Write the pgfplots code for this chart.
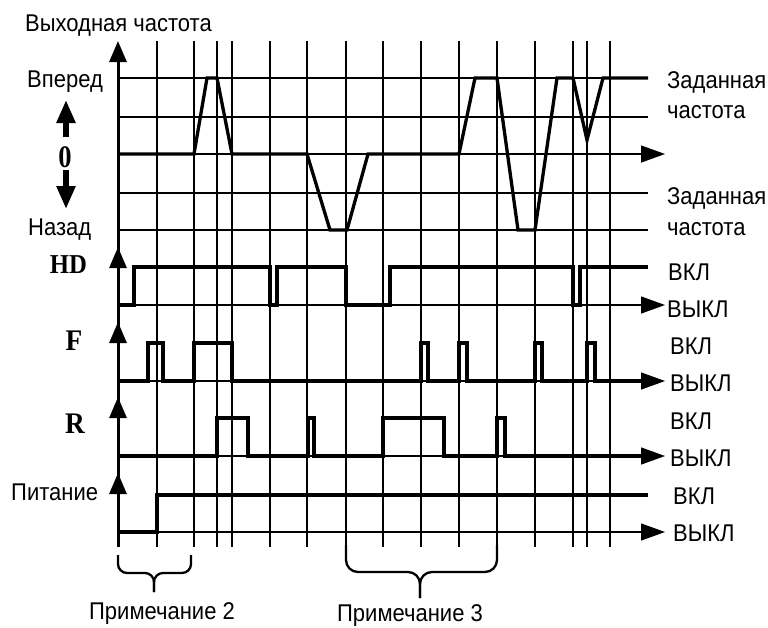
\documentclass[border=0pt]{standalone}
\usepackage{graphicx}
\usepackage{pgfplots}
\pgfplotsset{compat=1.18}
\usepackage{fontspec}
\setmainfont{Liberation Sans}
\newfontfamily\serifb{Liberation Serif}
\usetikzlibrary{arrows.meta}
\newcommand{\st}[1]{\scalebox{1}[1.1]{#1}}
\tikzset{
  lab/.style={font=\fontsize{22}{26}\selectfont, inner sep=0pt},
  blab/.style={font=\serifb\bfseries\fontsize{26}{28}\selectfont, inner sep=0pt},
  thinl/.style={black, line width=1.3pt, line cap=butt},
  gridl/.style={black, line width=1.7pt},
  sig/.style={black, line width=3.3pt, line join=miter},
  rarr/.style={-{Triangle[length=24pt,width=17pt]}},
  uarr/.style={black, line width=3pt, -{Triangle[length=21pt,width=17pt]}},
}
\begin{document}
\begin{tikzpicture}
\begin{axis}[
  scale only axis, width=768pt, height=627pt,
  xmin=0, xmax=768, ymin=0, ymax=627, y dir=reverse,
  axis lines=none, clip=false,
]
% vertical grid lines
\addplot[gridl] coordinates {(194,41)(194,547)};
\addplot[gridl] coordinates {(217,41)(217,547)};
\addplot[gridl] coordinates {(232,41)(232,547)};
\addplot[gridl] coordinates {(270,41)(270,547)};
\addplot[gridl] coordinates {(307,41)(307,547)};
\addplot[gridl] coordinates {(383,41)(383,547)};
\addplot[gridl] coordinates {(421,41)(421,547)};
\addplot[gridl] coordinates {(459,41)(459,547)};
\addplot[gridl] coordinates {(497,41)(497,547)};
\addplot[gridl] coordinates {(535,41)(535,547)};
\addplot[gridl] coordinates {(587,41)(587,547)};
\addplot[gridl] coordinates {(610,41)(610,547)};
\addplot[thinl] coordinates {(157,41)(157,547)};
\addplot[thinl] coordinates {(346,41)(346,547)};
\addplot[thinl] coordinates {(573,41)(573,547)};
% horizontal thin lines (frequency)
\addplot[thinl] coordinates {(118,78)(648,78)};
\addplot[thinl] coordinates {(118,117)(648,117)};
\addplot[thinl] coordinates {(118,193)(648,193)};
\addplot[thinl] coordinates {(118,230)(648,230)};
% baselines with arrows
\addplot[thinl, rarr] coordinates {(118,154)(665,154)};
\addplot[thinl, rarr] coordinates {(118,305)(665,305)};
\addplot[thinl, rarr] coordinates {(118,381)(665,381)};
\addplot[thinl, rarr] coordinates {(118,456)(665,456)};
\addplot[thinl, rarr] coordinates {(118,532)(665,532)};
% left axis with arrows
\addplot[black, line width=3pt] coordinates {(118,547)(118,55)};
\addplot[uarr] coordinates {(118,80)(118,41)};
\addplot[uarr] coordinates {(118,280)(118,247)};
\addplot[uarr] coordinates {(118,360)(118,322)};
\addplot[uarr] coordinates {(118,430)(118,397)};
\addplot[uarr] coordinates {(118,510)(118,473)};
% signals
\addplot[sig] coordinates {(118,154)(194,154)(207,78)(217,78)(232,154)(307,154)(330,230)(347,230)(368,154)(459,154)(475,78)(497,78)(518,230)(535,230)(557,78)(573,78)(587,140)(603,78)(648,78)};
\addplot[sig] coordinates {(118,305)(134,305)(134,267)(270,267)(270,305)(277,305)(277,267)(346,267)(346,305)(390,305)(390,267)(573,267)(573,305)(580,305)(580,267)(648,267)};
\addplot[sig] coordinates {(118,381)(148,381)(148,343)(163,343)(163,381)(194,381)(194,343)(232,343)(232,381)(421,381)(421,343)(428,343)(428,381)(459,381)(459,343)(467,343)(467,381)(535,381)(535,343)(542,343)(542,381)(587,381)(587,343)(595,343)(595,381)(648,381)};
\addplot[sig] coordinates {(118,456)(217,456)(217,418)(248,418)(248,456)(308,456)(308,418)(314,418)(314,456)(383,456)(383,418)(444,418)(444,456)(497,456)(497,418)(505,418)(505,456)(648,456)};
\addplot[sig] coordinates {(118,532)(157,532)(157,495)(648,495)};
% 0 arrows
\addplot[black, line width=5.5pt, -{Triangle[length=23pt,width=18pt]}] coordinates {(66,137)(66,100)};
\addplot[black, line width=5.5pt, -{Triangle[length=23pt,width=18pt]}] coordinates {(66,170)(66,209)};
% braces
\draw[line width=2.3pt, rounded corners=9pt] (118,555) -- (118,573) -- (154,573) -- (154,592);
\draw[line width=2.3pt, rounded corners=9pt] (191,555) -- (191,573) -- (154,573) -- (154,592);
\draw[line width=2.3pt, rounded corners=12pt] (346,545) -- (346,572) -- (420,572) -- (420,598);
\draw[line width=2.3pt, rounded corners=12pt] (497,545) -- (497,572) -- (420,572) -- (420,598);
% left labels
\node[lab, anchor=base west] at (25,31) {\st{Выходная частота}};
\node[lab, anchor=base west] at (27,87) {\st{Вперед}};
\node[lab, anchor=base west] at (28,235) {\st{Назад}};
\node[lab, anchor=base west] at (11,500) {\st{Питание}};
\node[blab, anchor=base] at (68.5,273) {\scalebox{0.95}[1.05]{HD}};
\node[blab, anchor=base] at (74,350) {\scalebox{1.05}[1.15]{F}};
\node[blab, anchor=base] at (75,433) {\scalebox{1.05}[1.15]{R}};
\node[blab, anchor=base, font=\serifb\bfseries\fontsize{28}{30}\selectfont] at (65,167) {\scalebox{0.95}[1.12]{0}};
% right labels
\node[lab, anchor=base west] at (667,88) {\st{Заданная}};
\node[lab, anchor=base west] at (667,118) {\st{частота}};
\node[lab, anchor=base west] at (667,204) {\st{Заданная}};
\node[lab, anchor=base west] at (667,235) {\st{частота}};
\node[lab, anchor=base west] at (668,280) {\st{ВКЛ}};
\node[lab, anchor=base west] at (667,317) {\st{ВЫКЛ}};
\node[lab, anchor=base west] at (670,354) {\st{ВКЛ}};
\node[lab, anchor=base west] at (670,391) {\st{ВЫКЛ}};
\node[lab, anchor=base west] at (670,429) {\st{ВКЛ}};
\node[lab, anchor=base west] at (670,466) {\st{ВЫКЛ}};
\node[lab, anchor=base west] at (673,504) {\st{ВКЛ}};
\node[lab, anchor=base west] at (673,541) {\st{ВЫКЛ}};
% notes
\node[lab, anchor=base] at (162,619) {\st{Примечание 2}};
\node[lab, anchor=base] at (410,621) {\st{Примечание 3}};
\end{axis}
\pgfresetboundingbox
\path (0,0) rectangle (768pt,627pt);
\end{tikzpicture}
\end{document}
